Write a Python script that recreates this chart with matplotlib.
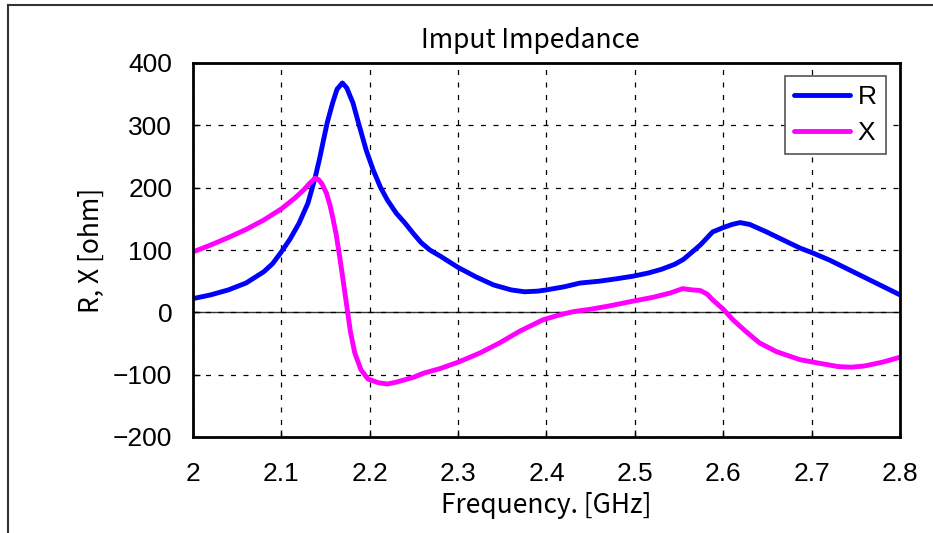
import numpy as np
import matplotlib
matplotlib.use("Agg")
import matplotlib.pyplot as plt
from matplotlib.lines import Line2D

# R curve (blue)
freq_r = [2.0, 2.02, 2.04, 2.06, 2.08, 2.09, 2.1, 2.11, 2.12, 2.13, 2.138, 2.143,
          2.147, 2.152, 2.158, 2.163, 2.169, 2.174, 2.181, 2.188, 2.196, 2.204,
          2.212, 2.22, 2.23, 2.24, 2.249, 2.258, 2.268, 2.28, 2.3, 2.32, 2.34,
          2.36, 2.375, 2.39, 2.4, 2.42, 2.438, 2.46, 2.48, 2.498, 2.515, 2.53,
          2.545, 2.555, 2.565, 2.574, 2.58, 2.588, 2.6, 2.61, 2.619, 2.63, 2.649,
          2.665, 2.687, 2.7, 2.72, 2.74, 2.76, 2.78, 2.8]
r_vals = [22, 28, 36, 47, 65, 78, 97, 118, 143, 175, 215, 245,
          272, 305, 336, 358, 368, 360, 336, 300, 260, 228,
          201, 180, 159, 143, 127, 112, 100, 90, 72, 57, 44,
          36, 33, 34, 36, 41, 47, 50, 54, 58, 63, 69,
          77, 85, 97, 108, 117, 129, 136, 141, 144, 141, 129,
          118, 103, 96, 84, 70, 56, 42, 28]

# X curve (magenta)
freq_x = [2.0, 2.02, 2.04, 2.06, 2.08, 2.1, 2.115, 2.125, 2.132, 2.138, 2.142,
          2.146, 2.151, 2.155, 2.158, 2.162, 2.166, 2.17, 2.174, 2.178, 2.183,
          2.19, 2.198, 2.21, 2.22, 2.23, 2.24, 2.25, 2.26, 2.28, 2.3, 2.325,
          2.347, 2.37, 2.396, 2.415, 2.43, 2.45, 2.47, 2.498, 2.52, 2.54, 2.554,
          2.565, 2.574, 2.582, 2.588, 2.6, 2.611, 2.625, 2.641, 2.66, 2.687,
          2.71, 2.73, 2.745, 2.76, 2.78, 2.8]
x_vals = [97, 108, 120, 133, 148, 166, 183, 196, 207, 215, 213,
          206, 191, 172, 153, 125, 89, 50, 10, -30, -65,
          -92, -107, -113, -115, -112, -108, -104, -98, -90, -80, -65,
          -49, -30, -12, -4, 1, 5, 10, 18, 24, 31, 38,
          36, 35, 29, 20, 5, -12, -30, -49, -63, -76,
          -82, -87, -88, -86, -80, -72]

x_ticks = [2, 2.1, 2.2, 2.3, 2.4, 2.5, 2.6, 2.7, 2.8]
y_ticks = [-200, -100, 0, 100, 200, 300, 400]

jp = ["Noto Sans CJK JP", "DejaVu Sans"]

fig = plt.figure(figsize=(9.33, 5.33), dpi=100)
ax = fig.add_axes([193 / 933, 1 - 437 / 533, 707 / 933, 374 / 533])

ax.plot(freq_r, r_vals, color="#0000ff", lw=3.5, label="R",
        solid_capstyle="round", solid_joinstyle="round")
ax.plot(freq_x, x_vals, color="#ff00ff", lw=3.5, label="X",
        solid_capstyle="round", solid_joinstyle="round")
ax.axhline(0, color="#333333", lw=1, zorder=1)

ax.set_xlim(2, 2.8)
ax.set_ylim(-200, 400)
ax.set_xticks(x_ticks)
ax.set_xticklabels([f"{t:g}" for t in x_ticks])
ax.set_yticks(y_ticks)
ax.set_yticklabels([f"{t}".replace("-", "\u2212") for t in y_ticks])
ax.grid(True, color="black", linestyle=(0, (4, 6)), lw=0.9)
ax.tick_params(direction="in", length=5, width=1, labelsize=19)
ax.tick_params(axis="x", pad=18)
ax.tick_params(axis="y", pad=15)
for lab in ax.get_xticklabels() + ax.get_yticklabels():
    lab.set_fontfamily("Liberation Sans")
for s in ax.spines.values():
    s.set_linewidth(2)

ax.set_xlabel("Frequency. [GHz]", fontsize=19, family=jp, labelpad=4)
ax.set_ylabel("R, X [ohm]", fontsize=19, family=jp, labelpad=6)
fig.text(530 / 933, 1 - 40 / 533, "Imput Impedance", fontsize=19, family=jp,
         ha="center", va="center")

leg = ax.legend(loc="upper right", bbox_to_anchor=(0.98, 0.965), borderaxespad=0,
                fancybox=False, edgecolor="#555555", framealpha=1,
                handlelength=2.1, handletextpad=0.3, borderpad=0.35,
                labelspacing=0.45, prop={"family": "Liberation Sans", "size": 19})
leg.get_frame().set_linewidth(1.2)

# partial outer border (left and top)
fig.add_artist(Line2D([8 / 933, 8 / 933], [0, 1 - 5 / 533], color="#333333", lw=1.5))
fig.add_artist(Line2D([8 / 933, 1], [1 - 5 / 533, 1 - 5 / 533], color="#333333", lw=1.5))

fig.savefig("out.png", dpi=100)
